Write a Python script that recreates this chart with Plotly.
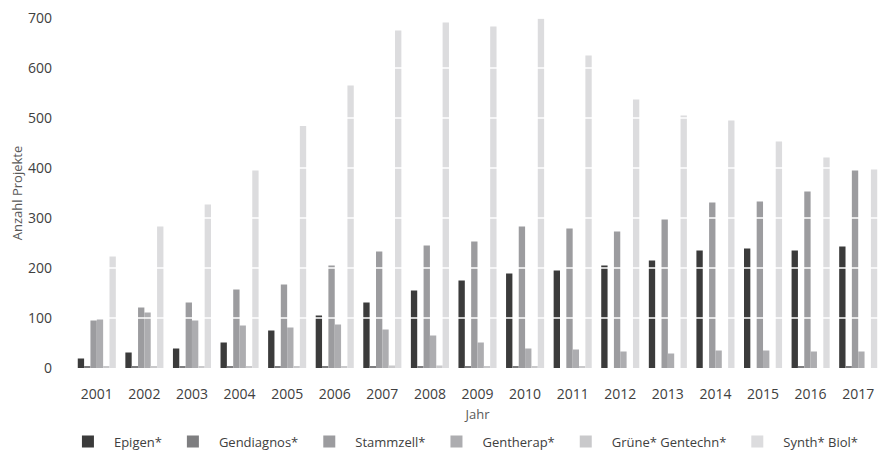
import plotly.graph_objects as go

years = [str(y) for y in range(2001, 2018)]

epigen = [19, 31, 39, 51, 75, 105, 131, 155, 175, 189, 195, 205, 215, 235, 239, 235, 243]
gendiagnos = [3, 3, 3, 3, 3, 3, 3, 3, 3, 3, 0, 0, 0, 0, 0, 3, 3]
stammzell = [95, 121, 131, 157, 167, 205, 233, 245, 253, 283, 279, 273, 297, 331, 333, 353, 395]
gentherap = [97, 111, 95, 85, 81, 87, 77, 65, 51, 39, 37, 33, 29, 35, 35, 33, 33]
gruene = [3, 3, 3, 3, 3, 3, 5, 5, 3, 3, 3, 0, 0, 0, 0, 0, 0]
synth = [223, 283, 327, 395, 484, 565, 675, 691, 683, 699, 625, 537, 505, 495, 453, 421, 397]

y_ticks = [0, 100, 200, 300, 400, 500, 600, 700]

series_names = ["Epigen*", "Gendiagnos*", "Stammzell*", "Gentherap*", "Grüne* Gentechn*", "Synth* Biol*"]
series_values = [epigen, gendiagnos, stammzell, gentherap, gruene, synth]
colors = ["#3b3b3b", "#7e7e80", "#9c9c9f", "#adadb0", "#c9c9cb", "#dcdcde"]

fig = go.Figure()
for name, vals, col in zip(series_names, series_values, colors):
    fig.add_trace(go.Bar(x=years, y=vals, name=name, marker=dict(color=col, line=dict(width=0))))

# white gridlines drawn over the bars (as in the reference)
for t in y_ticks[1:]:
    fig.add_shape(type="line", xref="paper", yref="y", x0=0, x1=1, y0=t, y1=t,
                  line=dict(color="white", width=1.5), layer="above")

fig.update_layout(
    width=879, height=450,
    barmode="group", bargap=0.2, bargroupgap=0,
    plot_bgcolor="white", paper_bgcolor="white",
    font=dict(family="Open Sans", size=13, color="#595959"),
    margin=dict(l=65, r=5, t=10, b=90, autoexpand=False),
    showlegend=True,
    legend=dict(orientation="h", x=0.482, xanchor="center", y=-0.21, yanchor="middle",
                font=dict(family="Open Sans", size=13, color="#404040"),
                itemwidth=42, tracegroupgap=0, traceorder="normal"),
    xaxis=dict(title=dict(text="Jahr", standoff=7, font=dict(size=13, color="#595959")),
               showgrid=False, showline=False, zeroline=False, ticks="",
               automargin=False, ticklabelstandoff=16,
               tickfont=dict(size=14, color="#404040")),
    yaxis=dict(title=dict(text="Anzahl Projekte", standoff=14, font=dict(size=13, color="#595959")),
               range=[0, 700], tickvals=y_ticks, showgrid=False,
               zeroline=False, showline=False, ticks="", automargin=False,
               ticklabeloverflow="allow",
               ticklabelstandoff=20, tickfont=dict(size=14, color="#404040")),
)

fig.write_html("out.html")
